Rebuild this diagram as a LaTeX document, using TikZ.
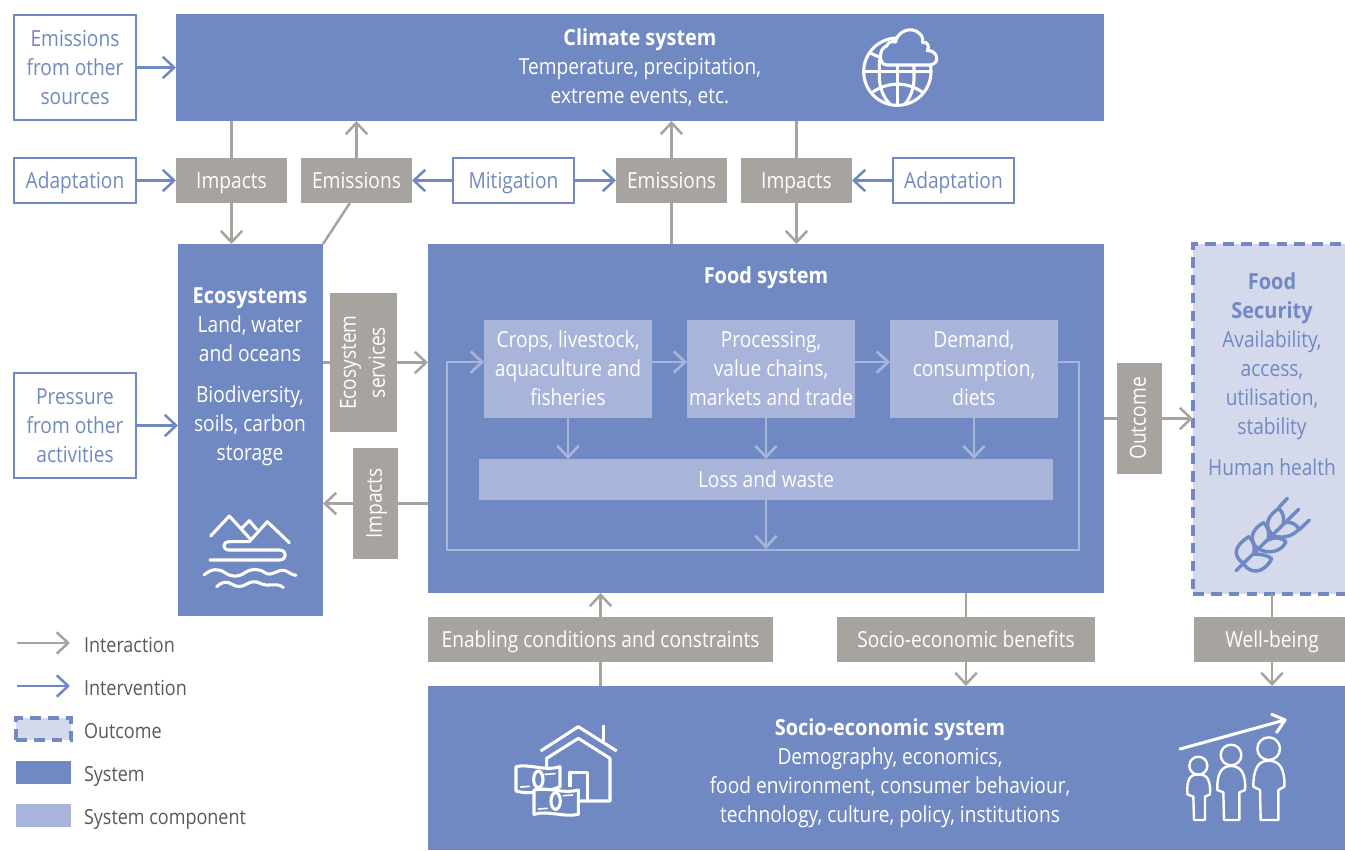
\documentclass[tikz,border=0pt]{standalone}
\usepackage{fontspec}
\setmainfont[FakeStretch=0.865,BoldFeatures={FakeStretch=0.9}]{Open Sans}
\usetikzlibrary{arrows.meta}
\definecolor{sysblue}{HTML}{7189C2}
\definecolor{compblue}{HTML}{A8B4D9}
\definecolor{outfill}{HTML}{D4D9EC}
\definecolor{tagrey}{HTML}{A7A39E}
\definecolor{legtext}{HTML}{58595B}
\tikzset{
  x=0.75pt,y=-0.75pt,
  every node/.style={inner sep=0pt,outer sep=0pt,align=center,font=\fontsize{16.6}{21.75}\selectfont},
  sysbox/.style={fill=sysblue,text=white},
  compbox/.style={fill=compblue,text=white},
  greybox/.style={fill=tagrey,text=white},
  whitebox/.style={fill=white,draw=sysblue,line width=1.5pt,text=sysblue},
  outbox/.style={fill=outfill,draw=sysblue,line width=2.4pt,dash pattern=on 8pt off 5.4pt,text=sysblue},
  plain/.style={line width=1.9pt,draw=tagrey},
  inter/.style={plain,-{Straight Barb[length=8.5pt,width=16pt,line width=1.9pt]}},
  interv/.style={line width=1.9pt,draw=sysblue,-{Straight Barb[length=8.5pt,width=16pt,line width=1.9pt]}},
  inner/.style={line width=2pt,draw=compblue,-{Straight Barb[length=8.5pt,width=16pt,line width=2pt]}},
  icon/.style={draw=white,line width=2.3pt,line cap=round,line join=round},
  wheat/.style={draw=sysblue,line width=2.6pt,line cap=round,line join=round},
  zoomed/.style={x=0.25pt,y=-0.25pt},
  legendtext/.style={anchor=west,text=legtext,font=\fontsize{15.6}{18}\selectfont},
}
\newcommand{\mystrut}{\rule[-5pt]{0pt}{21.75pt}}
\newcommand{\bx}[7]{%
  \pgfmathsetmacro{\bxcx}{(#3+#5)/2}\pgfmathsetmacro{\bxcy}{(#4+#6)/2}%
  \pgfmathsetmacro{\bxw}{(#5-#3)*0.75}\pgfmathsetmacro{\bxh}{(#6-#4)*0.75}%
  \node[#2,minimum width=\bxw pt,minimum height=\bxh pt] (#1) at (\bxcx,\bxcy) {\mystrut #7\mystrut};}
\newcommand{\sw}[6]{%
  \pgfmathsetmacro{\bxcx}{(#3+#5)/2}\pgfmathsetmacro{\bxcy}{(#4+#6)/2}%
  \pgfmathsetmacro{\bxw}{(#5-#3)*0.75}\pgfmathsetmacro{\bxh}{(#6-#4)*0.75}%
  \node[#2,minimum width=\bxw pt,minimum height=\bxh pt] (#1) at (\bxcx,\bxcy) {};}
\newcommand{\tx}[5]{\node[#2] (#1) at (#3,#4) {\mystrut #5\mystrut};}
\begin{document}
\begin{tikzpicture}
\useasboundingbox (0,0) rectangle (1345,850);
\clip (0,0) rectangle (1345,850);
% systems
\sw{climate}{sysbox}{176}{14}{1104}{121}
\tx{climatetxt}{text=white}{640}{67}{\textbf{Climate system}\\Temperature, precipitation,\\extreme events, etc.}
\sw{ecosys}{sysbox}{178}{244}{323}{616}
\tx{ecotxt1}{text=white}{250}{325}{\textbf{Ecosystems}\\Land, water\\and oceans}
\tx{ecotxt2}{text=white}{250}{424}{Biodiversity,\\soils, carbon\\storage}
\sw{food}{sysbox}{428}{244}{1104}{593}
\tx{foodtxt}{text=white}{766}{276}{\textbf{Food system}}
\sw{fsec}{outbox}{1193}{244}{1351}{594}
\tx{fsectxt1}{text=sysblue}{1272}{354}{\textbf{Food}\\\textbf{Security}\\Availability,\\access,\\utilisation,\\stability}
\tx{fsectxt2}{text=sysblue}{1272}{468}{Human health}
\sw{socio}{sysbox}{428}{686}{1345}{850}
\tx{sociotxt}{text=white}{890}{771}{\textbf{Socio-economic system}\\Demography, economics,\\food environment, consumer behaviour,\\technology, culture, policy, institutions}
% white boxes
\bx{othersrc}{whitebox}{14}{15}{136}{120}{Emissions\\from other\\sources}
\bx{adaptL}{whitebox}{14}{158}{136}{203}{Adaptation}
\bx{mitig}{whitebox}{453}{158}{574}{203}{Mitigation}
\bx{adaptR}{whitebox}{893}{158}{1014}{203}{Adaptation}
\bx{pressure}{whitebox}{14}{373}{136}{478}{Pressure\\from other\\activities}
% grey boxes
\bx{impL}{greybox}{176}{158}{287}{203}{Impacts}
\bx{emiL}{greybox}{301}{158}{412}{203}{Emissions}
\bx{emiR}{greybox}{616}{158}{727}{203}{Emissions}
\bx{impR}{greybox}{741}{158}{852}{203}{Impacts}
\sw{ecoserv}{greybox}{330}{293}{397}{432}
\tx{ecoservtxt}{rotate=90,text=white}{362.5}{362.5}{Ecosystem\\services}
\sw{impv}{greybox}{353}{448}{398}{559}
\tx{impvtxt}{rotate=90,text=white}{374}{503.5}{Impacts}
\sw{outc}{greybox}{1117}{363}{1162}{474}
\tx{outctxt}{rotate=90,text=white}{1138}{418.5}{Outcome}
\bx{enab}{greybox}{428}{617}{773}{662}{Enabling conditions and constraints}
\bx{sben}{greybox}{837}{617}{1095}{662}{Socio-economic benefits}
\bx{wellb}{greybox}{1194}{617}{1350}{662}{Well-being}
% components
\bx{crops}{compbox}{484}{320}{652}{418}{Crops, livestock,\\aquaculture and\\fisheries}
\bx{proc}{compbox}{687}{320}{855}{418}{Processing,\\value chains,\\markets and trade}
\bx{demand}{compbox}{890}{320}{1058}{418}{Demand,\\consumption,\\diets}
\bx{loss}{compbox}{479}{459}{1053}{500}{Loss and waste}
% interventions
\draw[interv] (othersrc.east) -- (othersrc.east -| climate.west);
\draw[interv] (adaptL) -- (impL);
\draw[interv] (mitig) -- (emiL);
\draw[interv] (mitig) -- (emiR);
\draw[interv] (adaptR) -- (impR);
\draw[interv] (pressure.east) -- (pressure.east -| ecosys.west);
% interactions
\draw[plain] (climate.south -| impL.north) -- (impL.north);
\draw[inter] (impL.south) -- (impL.south |- ecosys.north);
\draw[inter] (emiL.north) -- (emiL.north |- climate.south);
\draw[plain] (ecosys.north east) -- ([xshift=-5pt]emiL.south);
\draw[inter] (emiR.north) -- (emiR.north |- climate.south);
\draw[plain] (emiR.south |- food.north) -- (emiR.south);
\draw[plain] (climate.south -| impR.north) -- (impR.north);
\draw[inter] (impR.south) -- (impR.south |- food.north);
\draw[plain] (ecosys.east |- ecoserv.west) -- (ecoserv.west);
\draw[inter] (ecoserv.east) -- (ecoserv.east -| food.west);
\draw[plain] (food.west |- impv.east) -- (impv.east);
\draw[inter] (impv.west) -- (impv.west -| ecosys.east);
\draw[plain] (food.east |- outc.west) -- (outc.west);
\draw[inter] (outc.east) -- (outc.east -| fsec.west);
\draw[plain] (socio.north -| enab.south) -- (enab.south);
\draw[inter] (enab.north) -- (enab.north |- food.south);
\draw[plain] (food.south -| sben.north) -- (sben.north);
\draw[inter] (sben.south) -- (sben.south |- socio.north);
\draw[plain] (fsec.south -| wellb.north) -- (wellb.north);
\draw[inter] (wellb.south) -- (wellb.south |- socio.north);
% inner flows
\coordinate (lpA) at (1079,362);
\coordinate (lpB) at (1079,550);
\coordinate (lpC) at (447,550);
\coordinate (lpD) at (447,362);
\coordinate (lpE) at (766,549);
\draw[inner] ([yshift=5.25pt]crops.east) -- ([yshift=5.25pt]proc.west);
\draw[inner] ([yshift=5.25pt]proc.east) -- ([yshift=5.25pt]demand.west);
\draw[inner] (crops.south) -- (crops.south |- loss.north);
\draw[inner] (loss.north |- proc.south) -- (loss.north);
\draw[inner] (demand.south) -- (demand.south |- loss.north);
\draw[inner] (loss.south) -- (lpE);
\draw[inner] ([yshift=5.25pt]demand.east) -- (lpA) -- (lpB) -- (lpC) -- (lpD) -- ([yshift=5.25pt]crops.west);
% globe icon
\begin{scope}[shift={(840,20)},zoomed]
\draw[icon] (172,155) circle (101);
\draw[icon] (75,155) -- (272,155);
\draw[icon] (172,135) -- (172,256);
\draw[icon] (118,120) -- (118,170) .. controls (118,205) and (132,235) .. (150,252);
\draw[icon] (222,135) -- (222,175) .. controls (222,205) and (210,235) .. (195,252);
\draw[icon] (100,215) .. controls (145,185) and (200,185) .. (245,215);
\draw[icon] (92,100) .. controls (105,105) and (115,110) .. (125,115);
\draw[icon,fill=sysblue] (140,135) .. controls (115,135) and (115,85) .. (140,78)
  .. controls (142,68) and (155,62) .. (167,66)
  .. controls (170,35) and (215,15) .. (240,42)
  .. controls (248,50) and (250,60) .. (248,68)
  .. controls (262,62) and (270,80) .. (262,92)
  .. controls (290,88) and (305,130) .. (270,135) -- cycle;
\end{scope}
% mountain icon
\begin{scope}[shift={(190,500)},zoomed]
\draw[icon] (62,108) -- (118,48) -- (182,118);
\draw[icon] (155,85) -- (178,62) -- (200,88);
\draw[icon] (178,125) -- (232,65) -- (298,128);
\draw[icon] (178,125) -- (118,125) .. controls (96,125) and (96,150) .. (118,150) -- (268,150) .. controls (292,150) and (292,180) .. (268,180) -- (60,180);
\draw[icon] (42,225) .. controls (65,205) and (85,205) .. (105,218) .. controls (125,232) and (145,232) .. (165,218) .. controls (185,205) and (205,205) .. (225,218) .. controls (245,232) and (265,205) .. (285,212) .. controls (300,218) and (305,225) .. (318,226);
\draw[icon] (80,260) .. controls (95,245) and (110,243) .. (125,252) .. controls (140,262) and (155,262) .. (170,252) .. controls (185,243) and (200,243) .. (215,252) .. controls (235,262) and (255,245) .. (280,262);
\end{scope}
% wheat icon
\begin{scope}[shift={(1200,480)},zoomed]
\draw[wheat] (108,272) -- (296,88);
\draw[wheat] (262,55) -- (237,82);
\draw[wheat] (328,120) -- (297,150);
\draw[wheat] (237,85) .. controls (205,105) and (190,135) .. (215,162);
\draw[wheat] (237,85) .. controls (250,100) and (252,112) .. (250,130);
\draw[wheat] (190,128) .. controls (155,148) and (145,180) .. (172,205);
\draw[wheat] (190,128) .. controls (205,140) and (207,155) .. (205,172);
\draw[wheat] (147,170) .. controls (105,195) and (95,225) .. (130,250);
\draw[wheat] (147,170) .. controls (160,185) and (165,197) .. (162,215);
\draw[wheat] (250,130) .. controls (270,122) and (285,130) .. (297,146) .. controls (280,170) and (245,178) .. (215,165);
\draw[wheat] (205,180) .. controls (225,170) and (245,172) .. (258,185) .. controls (245,215) and (205,225) .. (172,205);
\draw[wheat] (162,222) .. controls (180,222) and (200,225) .. (215,235) .. controls (195,280) and (150,285) .. (130,250);
\end{scope}
% house icon
\begin{scope}[shift={(500,715)},zoomed]
\draw[icon,line cap=butt] (122,108) -- (235,35) -- (350,108);
\draw[icon,line cap=butt] (310,30) -- (310,78);
\draw[icon,line cap=butt] (140,170) -- (140,130) -- (235,70) -- (330,130) -- (330,258) -- (235,258);
\draw[icon,line cap=butt] (210,215) -- (210,172) -- (262,172) -- (262,258);
\draw[icon,fill=sysblue] (48,155) .. controls (90,145) and (130,170) .. (180,155) -- (180,215) .. controls (150,228) and (90,240) .. (48,228) -- cycle;
\draw[icon,fill=sysblue] (102,225) .. controls (145,215) and (190,238) .. (235,225) -- (235,298) .. controls (190,308) and (145,285) .. (102,298) -- cycle;
\draw[icon] (115,193) ellipse (14 and 25);
\draw[icon,fill=sysblue] (167,258) ellipse (14 and 25);
\draw[icon,line width=1.2pt] (135,178) -- (165,176);
\draw[icon,line width=1.2pt] (62,216) -- (88,214);
\draw[icon,line width=1.2pt] (190,242) -- (218,240);
\draw[icon,line width=1.2pt] (115,282) -- (142,280);
\end{scope}
% people icon
\begin{scope}[shift={(1170,705)},zoomed]
\draw[icon] (30,132) -- (345,45);
\draw[icon] (305,28) -- (345,45) -- (320,82);
\draw[icon,line width=1.8pt] (85,182) circle (27);
\draw[icon,line width=1.8pt] (70,275) -- (52,268) .. controls (50,225) and (58,208) .. (85,208) .. controls (112,208) and (122,225) .. (120,268) -- (105,275) -- (105,345) -- (72,345) -- cycle;
\draw[icon,line width=1.8pt] (183,150) circle (31);
\draw[icon,line width=1.8pt] (160,262) -- (142,255) .. controls (140,205) and (155,183) .. (183,183) .. controls (212,183) and (228,205) .. (225,255) -- (208,262) -- (208,345) -- (162,345) -- cycle;
\draw[icon,line width=1.8pt] (296,131) circle (34);
\draw[icon,line width=1.8pt] (270,255) -- (250,245) .. controls (250,190) and (265,167) .. (296,167) .. controls (328,167) and (345,190) .. (343,245) -- (325,255) -- (325,345) -- (272,345) -- cycle;
\end{scope}
% legend
\coordinate (lg1a) at (17,643); \coordinate (lg1b) at (70,643);
\coordinate (lg2a) at (17,686); \coordinate (lg2b) at (70,686);
\draw[inter] (lg1a) -- (lg1b);
\draw[interv] (lg2a) -- (lg2b);
\sw{lgout}{outbox}{16}{718}{71}{740}
\sw{lgsys}{sysbox}{16}{761}{71}{784}
\sw{lgcomp}{compbox}{16}{804}{71}{827}
\tx{lt1}{legendtext}{84}{645}{Interaction}
\tx{lt2}{legendtext}{84}{688}{Intervention}
\tx{lt3}{legendtext}{84}{731}{Outcome}
\tx{lt4}{legendtext}{84}{774}{System}
\tx{lt5}{legendtext}{84}{817}{System component}
\end{tikzpicture}
\end{document}
